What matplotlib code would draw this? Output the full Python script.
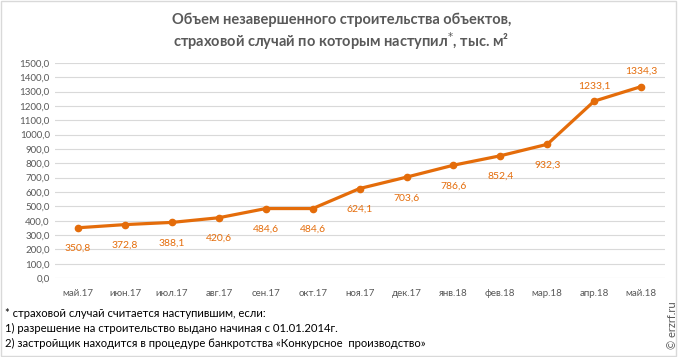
import matplotlib.pyplot as plt
from matplotlib.patches import Rectangle

# ── Data ──────────────────────────────────────────────────────────────────────
months = ["май.17", "июн.17", "июл.17", "авг.17", "сен.17", "окт.17", "ноя.17",
          "дек.17", "янв.18", "фев.18", "мар.18", "апр.18", "май.18"]
values = [350.8, 372.8, 388.1, 420.6, 484.6, 484.6, 624.1,
          703.6, 786.6, 852.4, 932.3, 1233.1, 1334.3]
label_above = [False] * 11 + [True, True]
yticks = list(range(0, 1501, 100))

ORANGE = "#E46C0A"
GRAY = "#595959"
plt.rcParams["font.family"] = ["Lato", "DejaVu Sans"]

# ── Plot ──────────────────────────────────────────────────────────────────────
fig = plt.figure(figsize=(6.83, 3.57), dpi=100)
ax = fig.add_axes([0.08, 0.221, 0.893, 0.603])

x = list(range(len(months)))
ax.plot(x, values, color=ORANGE, lw=2.3, marker="o", ms=4.5, zorder=3)

for xi, v, up in zip(x, values, label_above):
    ax.annotate(f"{v:.1f}".replace(".", ","), (xi, v),
                xytext=(0, 11 if up else -15), textcoords="offset points",
                ha="center", va="center", fontsize=7.5, color=ORANGE)

ax.set_xlim(-0.5, 12.5)
ax.set_ylim(0, 1500)
ax.set_yticks(yticks)
ax.set_yticklabels([f"{t},0" for t in yticks])
ax.set_xticks(x)
ax.set_xticklabels(months)
ax.tick_params(length=0, labelsize=7, colors=GRAY)
ax.tick_params(axis="x", pad=8)
ax.grid(axis="y", color="#D9D9D9", lw=0.8)
ax.set_axisbelow(True)
for s in ax.spines.values():
    s.set_visible(False)

fig.text(0.5, 0.945, "Объем незавершенного строительства объектов,",
         ha="center", va="center", fontsize=10.5, fontweight="bold", color=GRAY)
fig.text(0.5, 0.885, "страховой случай по которым наступил$^{*}$, тыс. м²",
         ha="center", va="center", fontsize=10.5, fontweight="bold", color=GRAY)

notes = ["* страховой случай считается наступившим, если:",
         "1) разрешение на строительство выдано начиная с 01.01.2014г.",
         "2) застройщик находится в процедуре банкротства «Конкурсное  производство»"]
for i, t in enumerate(notes):
    fig.text(0.008, 0.123 - i * 0.042, t, ha="left", va="center",
             fontsize=8.1, color="black")

fig.text(0.984, 0.09, "© erzrf.ru", rotation=90, ha="center", va="center",
         fontsize=8, color=GRAY)

fig.add_artist(Rectangle((0.002, 0.003), 0.988, 0.993, transform=fig.transFigure,
                         fill=False, edgecolor="#D9D9D9", lw=1))

fig.savefig("out.png", dpi=100)
